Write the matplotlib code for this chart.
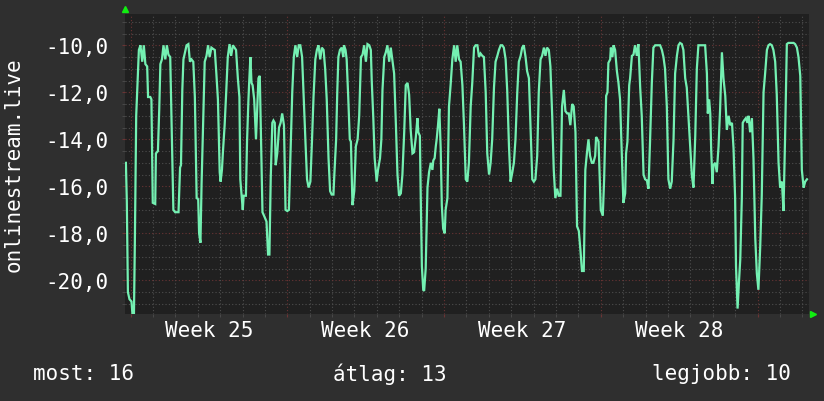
"""
onlinestream.live - RRD-style weekly graph
"""
import matplotlib
matplotlib.use('Agg')
import matplotlib.pyplot as plt
import matplotlib.transforms as mtransforms
from matplotlib.ticker import MultipleLocator, FuncFormatter
import numpy as np

plt.rcParams['font.family'] = ['DejaVu Sans Mono', 'DejaVu Sans']

# ─── data (time in days from the start of week 25, value) ──────────
t_w25 = [-0.21, -0.17, -0.12, -0.05, 0.04, 0.08, 0.15, 0.19, 0.25, 0.37,
         0.44, 0.52, 0.59, 0.66, 0.74, 0.78, 0.88, 0.93, 0.96, 0.99,
         1.10, 1.13, 1.22, 1.28, 1.33, 1.40, 1.47, 1.55, 1.62, 1.69,
         1.77, 1.84, 1.91, 1.99, 2.14, 2.21, 2.25, 2.31, 2.36, 2.43,
         2.50, 2.58, 2.65, 2.72, 2.80, 2.87, 2.95, 3.02, 3.06, 3.12,
         3.17, 3.24, 3.31, 3.39, 3.46, 3.53, 3.61, 3.68, 3.76, 3.83,
         3.90, 3.98, 4.02, 4.08, 4.12, 4.20, 4.27, 4.34, 4.42, 4.49,
         4.57, 4.64, 4.71, 4.79, 4.86, 4.90, 4.96, 5.01, 5.05, 5.15,
         5.20, 5.26, 5.30, 5.35, 5.40, 5.45, 5.52, 5.60, 5.67, 5.71,
         5.77, 5.82, 5.89, 5.96, 6.07, 6.14, 6.20, 6.26, 6.33, 6.38,
         6.44, 6.48, 6.55, 6.63, 6.70, 6.77, 6.85, 6.92]
v_w25 = [-15.0, -16.6, -20.5, -20.8, -20.9, -21.4, -21.4, -18.4, -13.0, -10.2,
         -10.0, -10.7, -10.0, -10.8, -10.9, -12.2, -12.2, -12.3, -14.6, -16.7,
         -16.75, -14.6, -14.5, -12.7, -10.8, -10.6, -10.0, -10.6, -10.0, -10.4,
         -10.5, -13.7, -17.0, -17.1, -17.1, -15.2, -15.1, -11.9, -10.6, -10.3,
         -10.0, -9.95, -10.7, -10.6, -10.7, -12.2, -16.5, -16.55, -18.0, -18.4,
         -15.9, -13.3, -10.7, -10.45, -10.0, -10.5, -10.1, -10.15, -10.2, -11.2,
         -12.3, -15.4, -15.8, -15.3, -14.6, -13.4, -12.0, -10.5, -9.95, -10.45,
         -10.0, -10.1, -10.2, -11.4, -12.2, -15.7, -16.4, -17.0, -16.4, -16.4,
         -14.1, -12.4, -11.5, -10.5, -11.6, -11.7, -12.3, -14.0, -12.4, -11.4,
         -11.3, -13.7, -17.1, -17.25, -17.5, -18.9, -18.9, -15.6, -13.3, -13.2,
         -13.3, -15.1, -14.6, -13.5, -13.3, -12.9, -13.4, -17.0]

t_w26 = [7.00, 7.07, 7.14, 7.22, 7.29, 7.36, 7.44, 7.51, 7.58, 7.66,
         7.73, 7.81, 7.88, 7.95, 8.03, 8.10, 8.17, 8.25, 8.32, 8.39,
         8.47, 8.54, 8.62, 8.69, 8.76, 8.84, 8.91, 8.98, 9.06, 9.10,
         9.18, 9.23, 9.28, 9.35, 9.43, 9.50, 9.53, 9.60, 9.65, 9.72,
         9.79, 9.84, 9.91, 9.99, 10.06, 10.14, 10.21, 10.29, 10.36, 10.43,
         10.51, 10.58, 10.66, 10.73, 10.77, 10.84, 10.90, 10.99, 11.05, 11.14,
         11.20, 11.25, 11.33, 11.40, 11.47, 11.55, 11.62, 11.70, 11.77, 11.85,
         11.92, 11.99, 12.07, 12.14, 12.22, 12.29, 12.37, 12.44, 12.51, 12.59,
         12.66, 12.74, 12.81, 12.85, 12.92, 12.96, 13.01, 13.07, 13.11, 13.18,
         13.26, 13.33, 13.41, 13.48, 13.52, 13.58, 13.63, 13.67, 13.73, 13.79,
         13.85, 13.90, 13.96]
v_w26 = [-17.05, -17.0, -14.7, -12.0, -10.5, -10.0, -10.5, -10.0, -10.0, -10.5,
         -12.2, -14.1, -15.7, -16.05, -15.8, -14.1, -12.2, -10.6, -10.2, -10.0,
         -10.6, -10.1, -10.2, -11.0, -12.3, -14.8, -16.2, -16.35, -16.35, -15.5,
         -14.0, -12.0, -10.5, -10.2, -10.1, -10.5, -10.0, -10.2, -10.6, -12.2,
         -14.0, -14.1, -16.8, -16.2, -14.3, -14.0, -13.0, -10.5, -10.4, -10.0,
         -10.7, -9.95, -10.0, -10.2, -11.5, -13.1, -14.8, -15.8, -15.3, -14.8,
         -14.0, -11.9, -10.5, -10.3, -10.0, -10.7, -10.1, -10.7, -11.2, -13.4,
         -15.5, -16.4, -16.3, -15.5, -13.7, -11.7, -11.6, -12.1, -13.6, -14.6,
         -14.55, -13.9, -13.1, -13.7, -13.85, -16.5, -19.4, -20.4, -20.45, -19.5,
         -16.05, -15.4, -15.0, -15.3, -14.9, -14.8, -14.3, -14.0, -13.4, -12.7,
         -14.4, -16.8, -17.8]

t_w27 = [14.03, 14.07, 14.15, 14.22, 14.30, 14.37, 14.45, 14.52, 14.59, 14.67,
         14.74, 14.82, 14.89, 14.97, 15.04, 15.11, 15.19, 15.26, 15.34, 15.41,
         15.49, 15.56, 15.63, 15.71, 15.78, 15.86, 15.93, 16.01, 16.08, 16.15,
         16.23, 16.30, 16.38, 16.45, 16.53, 16.60, 16.67, 16.75, 16.82, 16.90,
         16.97, 17.05, 17.12, 17.19, 17.27, 17.34, 17.42, 17.49, 17.56, 17.64,
         17.71, 17.79, 17.86, 17.94, 18.01, 18.08, 18.16, 18.23, 18.31, 18.38,
         18.46, 18.53, 18.60, 18.68, 18.75, 18.83, 18.90, 18.97, 19.05, 19.12,
         19.20, 19.27, 19.35, 19.42, 19.50, 19.57, 19.64, 19.72, 19.79, 19.87,
         19.94, 20.02, 20.09, 20.16, 20.24, 20.31, 20.38, 20.45, 20.52, 20.60,
         20.67, 20.75, 20.79, 20.85, 20.90, 20.94]
v_w27 = [-18.0, -17.0, -16.5, -12.6, -11.6, -10.6, -10.0, -10.7, -10.0, -10.6,
         -10.7, -11.7, -13.4, -15.7, -15.8, -15.0, -12.6, -11.6, -10.1, -10.0,
         -10.0, -10.5, -10.35, -10.45, -10.5, -12.0, -14.6, -15.5, -15.0, -14.0,
         -11.8, -10.7, -10.45, -10.2, -10.0, -10.0, -10.1, -10.6, -11.9, -14.3,
         -15.8, -15.4, -15.0, -14.0, -12.0, -10.7, -10.45, -10.1, -10.0, -10.5,
         -11.1, -11.4, -13.4, -15.7, -15.8, -15.7, -14.7, -12.0, -10.6, -10.45,
         -10.1, -10.45, -10.1, -10.2, -10.9, -13.0, -15.3, -16.5, -16.1, -16.4,
         -16.4, -12.6, -11.9, -12.8, -12.9, -12.9, -13.4, -12.5, -12.6, -13.7,
         -17.7, -17.9, -18.7, -19.6, -19.6, -15.3, -14.6, -14.0, -14.7, -15.0,
         -15.0, -14.7, -13.9, -14.0, -14.1, -15.3]

t_w28 = [21.00, 21.09, 21.15, 21.24, 21.30, 21.34, 21.42, 21.45, 21.52, 21.57,
         21.64, 21.72, 21.79, 21.86, 21.94, 22.01, 22.09, 22.13, 22.19, 22.27,
         22.31, 22.39, 22.46, 22.53, 22.61, 22.68, 22.76, 22.83, 22.91, 22.98,
         23.06, 23.13, 23.20, 23.28, 23.35, 23.43, 23.65, 23.73, 23.80, 23.87,
         23.95, 24.02, 24.10, 24.17, 24.25, 24.32, 24.40, 24.47, 24.54, 24.62,
         24.69, 24.77, 24.84, 24.92, 24.99, 25.07, 25.14, 25.22, 25.29, 25.36,
         25.66, 25.74, 25.78, 25.84, 25.89, 25.93, 25.99, 26.03, 26.11, 26.18,
         26.26, 26.33, 26.41, 26.48, 26.56, 26.63, 26.71, 26.78, 26.86, 26.93,
         27.00, 27.04, 27.11, 27.17, 27.23, 27.30, 27.34, 27.40, 27.48, 27.55,
         27.60, 27.67, 27.75, 27.82, 27.90, 27.97]
v_w28 = [-17.0, -17.25, -15.7, -12.15, -12.0, -10.75, -10.6, -10.1, -10.5, -10.0,
         -10.2, -11.1, -11.6, -12.3, -14.6, -16.7, -16.3, -14.6, -14.1, -11.7,
         -11.4, -10.45, -10.4, -10.0, -10.45, -9.95, -11.8, -13.0, -15.5, -15.7,
         -15.75, -16.1, -14.1, -11.6, -10.1, -10.0, -10.0, -10.2, -10.5, -11.0,
         -12.6, -15.7, -16.1, -15.8, -14.0, -11.2, -10.45, -10.0, -9.9, -9.95,
         -10.2, -11.4, -11.8, -13.1, -14.3, -15.55, -16.05, -13.85, -11.0, -10.0,
         -10.0, -11.2, -12.9, -12.3, -12.9, -14.4, -15.9, -15.1, -15.0, -15.4,
         -14.3, -12.7, -10.3, -11.4, -12.15, -13.6, -13.0, -13.4, -13.3, -14.4,
         -16.5, -19.4, -21.2, -20.1, -19.1, -16.5, -13.3, -13.2, -13.1, -13.3,
         -13.0, -13.7, -13.1, -14.8, -18.2, -19.7]

t_w29 = [28.04, 28.12, 28.19, 28.27, 28.34, 28.42, 28.49, 28.56, 28.64, 28.71,
         28.79, 28.86, 28.94, 29.01, 29.09, 29.16, 29.23, 29.31, 29.38, 29.61,
         29.68, 29.76, 29.83, 29.91, 29.98, 30.06, 30.13, 30.21]
v_w29 = [-20.4, -18.6, -16.4, -12.0, -11.2, -10.2, -10.0, -9.95, -10.0, -10.2,
         -10.7, -12.1, -15.0, -16.05, -15.8, -17.05, -14.0, -9.95, -9.9, -9.9,
         -9.95, -10.1, -10.5, -11.3, -15.3, -16.05, -15.8, -15.7]

week_starts = [0, 7, 14, 21, 28]
week_labels = ['Week 25', 'Week 26', 'Week 27', 'Week 28']
summary = [('most', 16), ('átlag', 13), ('legjobb', 10)]
ylabel = 'onlinestream.live'

t = np.concatenate([t_w25, t_w26, t_w27, t_w28, t_w29])
v = np.concatenate([v_w25, v_w26, v_w27, v_w28, v_w29])

# ─── colours ──────────────────────────────────────────────────────
BG = '#2f2f2f'
PLOT_BG = '#202020'
LINE = '#74f0b2'
GRID = '#4e4e4e'
MGRID = '#6a3434'
ARROW = '#11ee11'
FS = 15

W, H = 824, 402
fig = plt.figure(figsize=(W / 100, H / 100), dpi=100)
fig.patch.set_facecolor(BG)
ax = fig.add_axes([125 / W, 1 - 315 / H, (809 - 125) / W, (315 - 15) / H])
ax.set_facecolor(PLOT_BG)

ax.plot(t, v, color=LINE, linewidth=1.6, solid_joinstyle='miter', zorder=3)

ax.set_xlim(-0.25, 30.3)
ax.set_ylim(-21.43, -8.67)

# grid: minor = days / 0.5, major = weeks / 2.0
ax.xaxis.set_major_locator(plt.FixedLocator(week_starts))
ax.xaxis.set_minor_locator(MultipleLocator(1))
ax.yaxis.set_major_locator(MultipleLocator(2))
ax.yaxis.set_minor_locator(MultipleLocator(0.5))
ax.grid(which='minor', color=GRID, linestyle=(0, (1, 2)), linewidth=0.8, zorder=1)
ax.grid(which='major', color=MGRID, linestyle=(0, (1, 2)), linewidth=0.8, zorder=1)
ax.set_axisbelow(True)

ax.yaxis.set_major_formatter(FuncFormatter(lambda y, _: f'{y:.1f}'.replace('.', ',')))
ax.set_xticklabels([])
ax.tick_params(axis='y', which='major', colors='white', labelsize=FS, length=2,
               color=MGRID, pad=10)
ax.tick_params(axis='x', which='major', length=2, color=MGRID)
ax.tick_params(which='minor', length=2, color=GRID)
for s in ax.spines.values():
    s.set_visible(False)

# week labels, centred in each week
trans = mtransforms.blended_transform_factory(ax.transData, fig.transFigure)
for i, lab in enumerate(week_labels):
    mid = (week_starts[i] + week_starts[i + 1]) / 2
    ax.text(mid, 1 - 331 / H, lab, transform=trans, color='white', fontsize=FS,
            ha='center', va='center')

# axis arrows
ax.plot([0], [1.018], marker='^', color=ARROW, markersize=5,
        transform=ax.transAxes, clip_on=False)
ax.plot([1.006], [0], marker='>', color=ARROW, markersize=5,
        transform=ax.transAxes, clip_on=False)

fig.text(14 / W, 1 - 165 / H, ylabel, rotation=90, color='white', fontsize=FS,
         ha='center', va='center')

# summary line
fig.text(33 / W, 1 - 374 / H, f'{summary[0][0]}: {summary[0][1]}', color='white',
         fontsize=FS, ha='left', va='center')
fig.text(333 / W, 1 - 374 / H, f'{summary[1][0]}: {summary[1][1]}', color='white',
         fontsize=FS, ha='left', va='center')
fig.text(791 / W, 1 - 374 / H, f'{summary[2][0]}: {summary[2][1]}', color='white',
         fontsize=FS, ha='right', va='center')

plt.savefig('out.png', dpi=100, facecolor=BG)
plt.close()
